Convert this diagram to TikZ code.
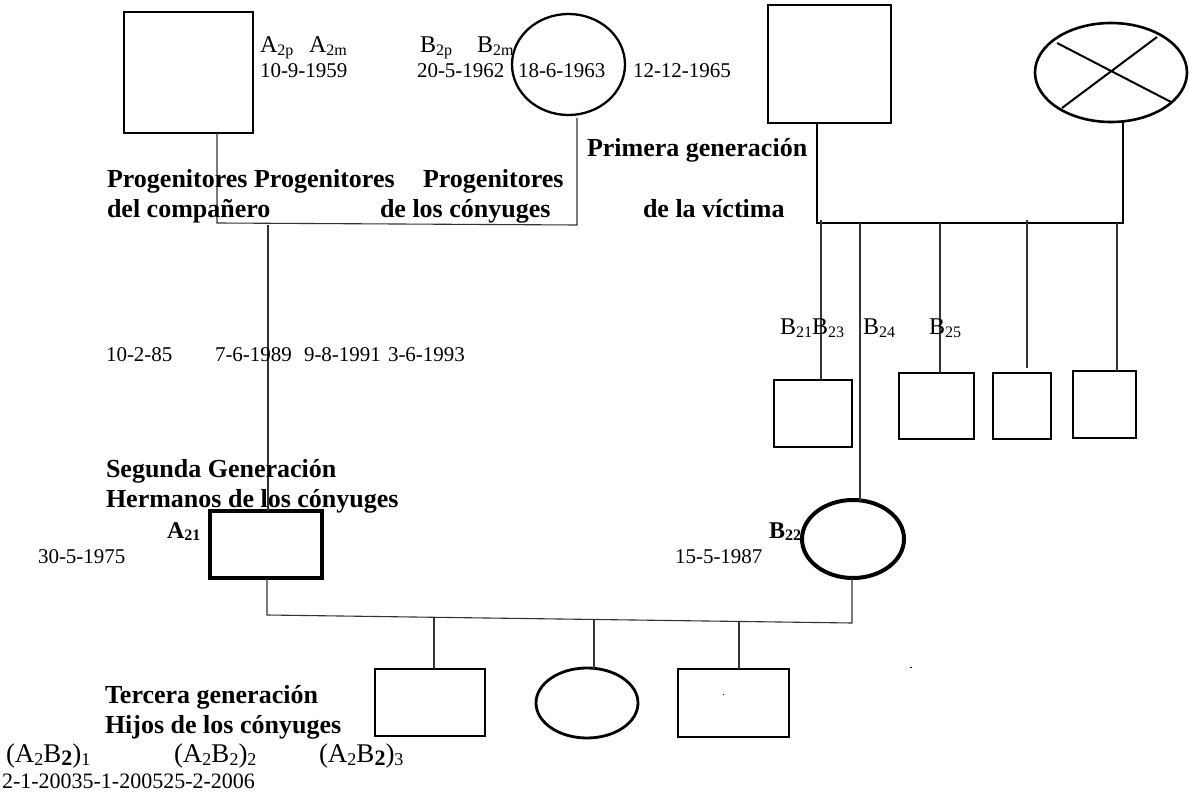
\documentclass[tikz,border=0pt]{standalone}
\usepackage{fontspec}
\setmainfont{Liberation Serif}
\usetikzlibrary{shapes.geometric,calc}
\newcommand{\sbs}[1]{\raisebox{-2.5pt}{\fontsize{16}{18}\selectfont #1}}
\newcommand{\sbl}[1]{\raisebox{-3pt}{\fontsize{18}{20}\selectfont #1}}
\begin{document}
\begin{tikzpicture}[x=1pt,y=-1pt,
  txt/.style={anchor=base west, inner sep=0pt, outer sep=0pt, font=\fontsize{21}{25}\selectfont},
  hd/.style={anchor=base west, inner sep=0pt, outer sep=0pt, font=\fontsize{26}{30}\selectfont\bfseries},
  lb/.style={anchor=base west, inner sep=0pt, outer sep=0pt, font=\fontsize{24}{28}\selectfont},
  lbh/.style={anchor=base west, inner sep=0pt, outer sep=0pt, font=\fontsize{27}{30}\selectfont},
  lbb/.style={lb, font=\fontsize{24}{28}\selectfont\bfseries},
  sq/.style={draw, rectangle, line width=2.6pt, inner sep=0pt, outer sep=0pt},
  ov/.style={draw, ellipse, line width=2.6pt, inner sep=0pt, outer sep=0pt},
  thinln/.style={line width=1.1pt, black!80},
  medln/.style={line width=2pt}
]
\useasboundingbox (0,0) rectangle (1189,799);

% ---------- shapes ----------
\node[sq, line width=2.3pt, minimum width=129pt, minimum height=121pt] (pA) at (188.5,72.5) {};
\node[ov, line width=2.3pt, minimum width=113pt, minimum height=101pt] (pB) at (568.5,64.5) {};
\node[sq, minimum width=123pt, minimum height=118pt] (pC) at (829.5,64) {};
\node[ov, minimum width=152pt, minimum height=99pt] (pD) at (1111,72.5) {};
\draw[line width=2pt] ($(pD)+(-54,-29.5)$) -- ($(pD)+(60,29.5)$)
                      ($(pD)+(46,-35.5)$) -- ($(pD)+(-49,35.5)$);

\node[sq, minimum width=78pt, minimum height=67pt] (k1) at (813,413.5) {};
\node[sq, minimum width=75pt, minimum height=66pt] (k2) at (936.5,406) {};
\node[sq, minimum width=58pt, minimum height=66pt] (k3) at (1022,406) {};
\node[sq, minimum width=63pt, minimum height=67pt] (k4) at (1104.5,404.5) {};

\node[sq, line width=4pt, minimum width=112pt, minimum height=67pt] (a21) at (266,544.5) {};
\node[ov, line width=4pt, minimum width=102pt, minimum height=78pt] (b22) at (853,539) {};

\node[sq, line width=2.8pt, minimum width=110pt, minimum height=67pt] (h1) at (430,702.5) {};
\node[ov, line width=2.8pt, minimum width=102pt, minimum height=70pt] (h2) at (587,703) {};
\node[sq, line width=2.8pt, minimum width=111pt, minimum height=68pt] (h3) at (733.5,703) {};

% tiny marks
\fill (722.5,693.5) rectangle (723.5,694.5);
\fill (910,666.5) rectangle (912,667.5);

% ---------- connectors ----------
\coordinate (j1) at (217,223);
\coordinate (j2) at (577,225);
\coordinate (j2t) at (577,118);
\draw[thinln] (pA.south -| j1) -- (j1) -- (j2) -- (j2t);
\coordinate (j3) at (268,225);
\draw[thinln] (j3) -- (a21.north -| j3);

\coordinate (r1) at (817,223);
\coordinate (r2) at (1123,223);
\draw[medln] (pC.south -| r1) -- (r1) -- (r2) -- (r2 |- pD.south);

\coordinate (c1) at (821,220);
\coordinate (c2) at (860,223);
\coordinate (c3) at (940,223);
\coordinate (c4) at (1027,220);
\coordinate (c4e) at (1027,368);
\coordinate (c5) at (1117,223);
\draw[thinln] (c1) -- (k1.north -| c1);
\draw[thinln] (c2) -- ($(b22.north -| c2)+(0,0.5)$);
\draw[thinln] (c3) -- (k2.north -| c3);
\draw[thinln] (c4) -- (c4e);
\draw[thinln] (c5) -- (k4.north -| c5);

\coordinate (m1) at (267,615);
\coordinate (m2) at (852,623);
\draw[thinln] (a21.south -| m1) -- (m1) -- (m2) -- (b22.south -| m2);
\coordinate (n1) at (434,617.3);
\coordinate (n2) at (594,619.5);
\coordinate (n3) at (739,621.5);
\draw[thinln] (n1) -- (h1.north -| n1);
\draw[thinln] (n2) -- ($(h2.north -| n2)+(0,0.5)$);
\draw[thinln] (n3) -- (h3.north -| n3);

% ---------- texts ----------
\node[lb] (tA2p) at (260,53) {A\sbs{2p}};
\node[lb] (tA2m) at (309,53) {A\sbs{2m}};
\node[txt] (tdA) at (260,78) {10-9-1959};
\node[lb] (tB2p) at (420,53) {B\sbs{2p}};
\node[lb] (tB2m) at (477,53) {B\sbs{2m}};
\node[txt] (tdB1) at (417,78) {20-5-1962};
\node[txt] (tdB2) at (518,78) {18-6-1963};
\node[txt] (tdB3) at (633,78) {12-12-1965};

\node[hd] (tP1) at (107,188) {Progenitores Progenitores};
\node[hd] (tP2) at (423,188) {Progenitores};
\node[hd] (tP3) at (107,218) {del compañero};
\node[hd] (tP4) at (380,218) {de los cónyuges};
\node[hd] (tG1) at (587,157) {Primera generación};
\node[hd] (tG2) at (643,218) {de la víctima};

\node[lb] (tB21) at (780,335) {B\sbs{21}B\sbs{23}};
\node[lb] (tB24) at (863,335) {B\sbs{24}};
\node[lb] (tB25) at (929,335) {B\sbs{25}};

\node[txt] (td1) at (106,362) {10-2-85};
\node[txt] (td2) at (215,362) {7-6-1989};
\node[txt] (td3) at (304,362) {9-8-1991};
\node[txt] (td4) at (388,362) {3-6-1993};

\node[hd] (tS1) at (106,477) {Segunda Generación};
\node[hd] (tS2) at (106,507) {Hermanos de los cónyuges};
\node[lbb] (tA21) at (167,538) {A\sbs{21}};
\node[txt] (tdA21) at (38,563) {30-5-1975};
\node[lbb] (tB22) at (769,538) {B\sbs{22}};
\node[txt] (tdB22) at (675,563) {15-5-1987};

\node[hd] (tT1) at (105,703) {Tercera generación};
\node[hd] (tT2) at (105,733) {Hijos de los cónyuges};
\node[lbh] (tH1) at (6,762) {(A\sbl{2}B\raisebox{-3pt}{\fontsize{22}{24}\selectfont\bfseries 2})\sbl{1}};
\node[lbh] (tH2) at (174,762) {(A\sbl{2}B\sbl{2})\sbl{2}};
\node[lbh] (tH3) at (319,762) {(A\sbl{2}B\raisebox{-3pt}{\fontsize{22}{24}\selectfont\bfseries 2})\sbl{3}};
\node[txt, font=\fontsize{22}{25}\selectfont] (tdH) at (2,788) {2-1-20035-1-200525-2-2006};
\end{tikzpicture}
\end{document}
